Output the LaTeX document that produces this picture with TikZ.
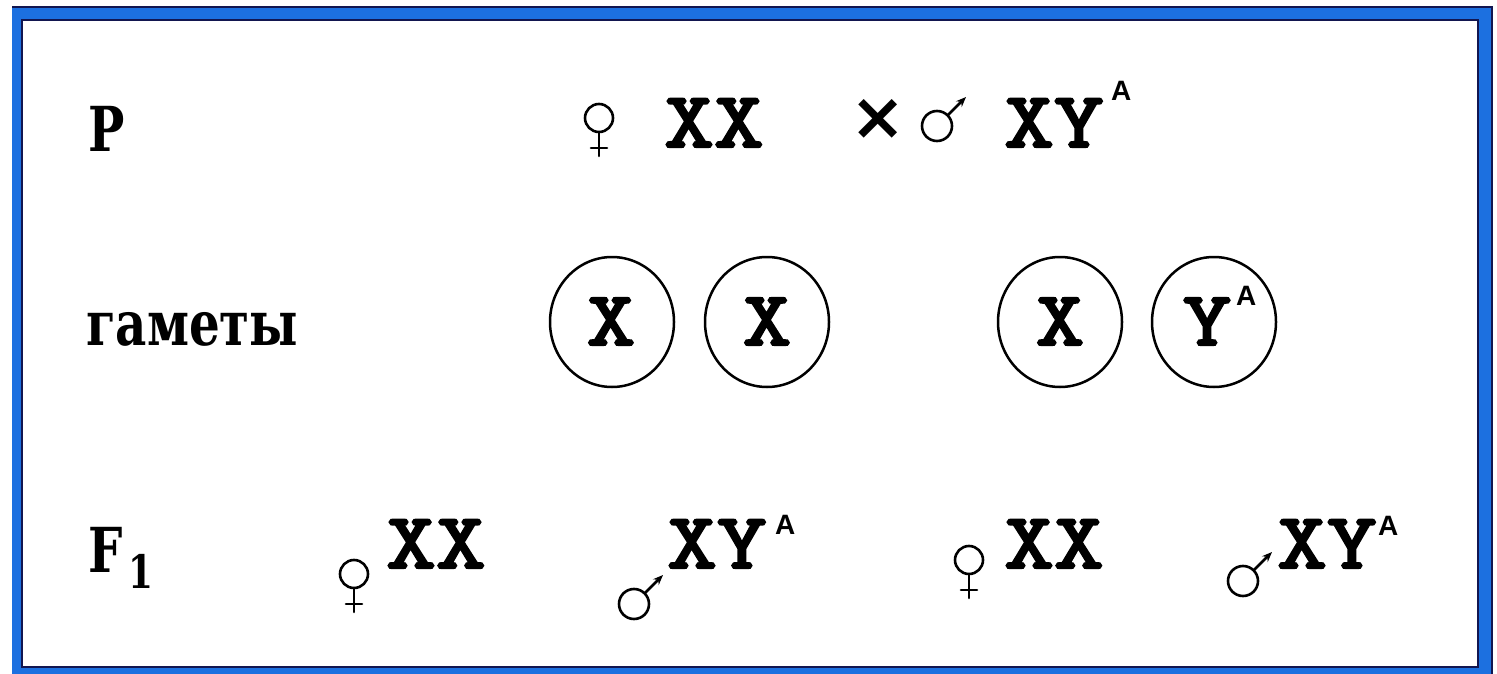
\documentclass[tikz,border=0pt]{standalone}
\usepackage{fontspec}
\usetikzlibrary{shapes.geometric,arrows.meta}
\newfontfamily\monof[FakeBold=3,FakeStretch=1.2]{lmmono10-regular.otf}
\newfontfamily\seriff[FakeStretch=0.78]{DejaVu Serif}
\newfontfamily\sansf{Liberation Sans}
\newfontfamily\symf{DejaVu Sans}
\definecolor{frameblue}{RGB}{28,112,224}
\definecolor{framedark}{RGB}{18,22,80}
\tikzset{
  gen/.style={inner sep=0pt, anchor=base west, font=\monof\fontsize{79}{80}\selectfont},
  supA/.style={inner sep=0pt, anchor=base west, font=\sansf\bfseries\fontsize{28}{30}\selectfont},
  lbl/.style={inner sep=0pt, anchor=base west, font=\seriff\bfseries\fontsize{62}{64}\selectfont},
  gamlbl/.style={inner sep=0pt, anchor=base, font=\monof\fontsize{77}{78}\selectfont},
  gam/.style={draw, ellipse, line width=2.5pt, minimum width=124pt, minimum height=130pt, inner sep=0pt},
  symline/.style={line width=2.6pt, line cap=round},
  fem/.pic={
    \draw[symline] (0,0) circle[radius=14pt];
    \draw[symline] (0,14) -- (0,38) (-8,30) -- (8,30);
  },
  mal/.pic={
    \draw[symline] (0,0) circle[radius=15pt];
    \draw[line width=2.6pt, -{Stealth[length=10pt,width=8pt]}] (10.6,-10.6) -- (29,-29);
  }
}
\begin{document}
\begin{tikzpicture}[x=1pt,y=-1pt]
\useasboundingbox (0,0) rectangle (1497,674);
% frame
\fill[white] (0,0) rectangle (1497,674);
\fill[frameblue] (12,7) rectangle (1492,674);
\draw[framedark, line width=1.5pt] (12,7) -- (1492,7) -- (1492,674);
\fill[white] (22,20) rectangle (1478,667);
\draw[framedark, line width=2.5pt] (22,20) rectangle (1478,667);

% row labels
\node[lbl] (lP) at (88,152) {P};
\node[lbl] (lgam) at (86,345) {гаметы};
\node[lbl] (lF) at (88,572) {F};
\node[lbl, font=\seriff\bfseries\fontsize{46}{48}\selectfont] (lF1) at (128,588) {1};

% P row
\pic at (599,118) {fem};
\node[gen] (pXX) at (664,147) {XX};
\node[inner sep=0pt, anchor=base, font=\symf\bfseries\fontsize{66}{68}\selectfont] (cross) at (878,140) {×};
\pic at (937,126) {mal};
\node[gen] (pXY) at (1004,147) {XY};
\node[supA] (pA) at (1111,101) {A};

% gametes
\node[gam] (g1) at (612,322) {};
\node[gam] (g2) at (767,322) {};
\node[gam] (g3) at (1060,322) {};
\node[gam] (g4) at (1214,322) {};
\node[gamlbl] (g1t) at (611,345) {X};
\node[gamlbl] (g2t) at (767,345) {X};
\node[gamlbl] (g3t) at (1060,345) {X};
\node[gamlbl] (g4t) at (1207,345) {Y};
\node[supA] (g4A) at (1236,305) {A};

% F1 row
\pic at (354,574) {fem};
\node[gen] (f1) at (386,568) {XX};
\pic at (634,604) {mal};
\node[gen] (f2) at (667,568) {XY};
\node[supA] (f2A) at (775,534) {A};
\pic at (969,560) {fem};
\node[gen] (f3) at (1004,568) {XX};
\pic at (1243,581) {mal};
\node[gen] (f4) at (1277,568) {XY};
\node[supA] (f4A) at (1378,535) {A};
\end{tikzpicture}
\end{document}
